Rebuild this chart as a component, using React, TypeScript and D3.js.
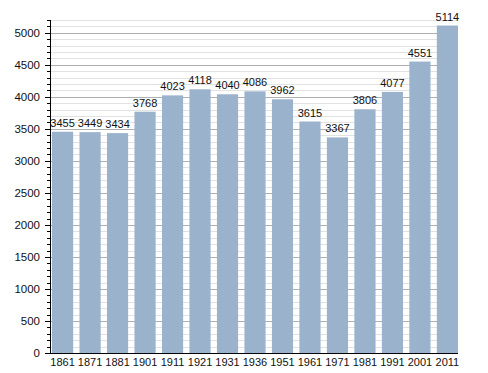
import React, { useEffect, useRef } from 'react';
import * as d3 from 'd3';

const years = ['1861', '1871', '1881', '1901', '1911', '1921', '1931', '1936', '1951', '1961', '1971', '1981', '1991', '2001', '2011'];
const population = [3455, 3449, 3434, 3768, 4023, 4118, 4040, 4086, 3962, 3615, 3367, 3806, 4077, 4551, 5114];
const majorTicks = [0, 500, 1000, 1500, 2000, 2500, 3000, 3500, 4000, 4500, 5000];

const App: React.FC = () => {
  const ref = useRef<SVGSVGElement>(null);

  useEffect(() => {
    const width = 488, height = 373;
    const svg = d3.select(ref.current)
      .attr('width', width)
      .attr('height', height);

    svg.selectAll('*').remove();

    const left = 50, right = 458, top = 20, bottom = 353;
    const font = 'Liberation Sans, Arial, sans-serif';

    const x = d3.scaleBand()
      .domain(years)
      .range([52, right])
      .paddingInner(0.23)
      .paddingOuter(0);

    const y = d3.scaleLinear()
      .domain([0, 5200])
      .range([bottom, top]);

    // minor grid every 100
    const minor = d3.range(100, 5201, 100).filter(v => v % 500 !== 0);
    svg.append('g')
      .selectAll('line')
      .data(minor)
      .join('line')
      .attr('x1', left)
      .attr('x2', right)
      .attr('y1', d => Math.round(y(d)) + 0.5)
      .attr('y2', d => Math.round(y(d)) + 0.5)
      .attr('stroke', '#e2e2e2')
      .attr('stroke-width', 1);

    // major grid
    svg.append('g')
      .selectAll('line')
      .data(majorTicks.filter(v => v > 0))
      .join('line')
      .attr('x1', left)
      .attr('x2', right)
      .attr('y1', d => Math.round(y(d)) + 0.5)
      .attr('y2', d => Math.round(y(d)) + 0.5)
      .attr('stroke', '#b0b0b0')
      .attr('stroke-width', 1);

    // bars
    svg.append('g')
      .selectAll('rect')
      .data(population)
      .join('rect')
      .attr('x', (d, i) => x(years[i])!)
      .attr('y', d => y(d))
      .attr('width', x.bandwidth())
      .attr('height', d => bottom - y(d))
      .attr('fill', '#9ab2cc');

    // value labels
    svg.append('g')
      .selectAll('text')
      .data(population)
      .join('text')
      .attr('x', (d, i) => x(years[i])! + x.bandwidth() / 2)
      .attr('y', d => y(d) - 5)
      .attr('text-anchor', 'middle')
      .style('font-family', font)
      .style('font-size', '11px')
      .attr('fill', '#111')
      .text(d => d);

    // y axis line + ticks
    const axis = svg.append('g');
    axis.append('line')
      .attr('x1', left + 0.5)
      .attr('x2', left + 0.5)
      .attr('y1', top)
      .attr('y2', bottom + 1)
      .attr('stroke', '#000');

    axis.selectAll('line.minor')
      .data(minor)
      .join('line')
      .attr('class', 'minor')
      .attr('x1', left - 3)
      .attr('x2', left)
      .attr('y1', d => Math.round(y(d)) + 0.5)
      .attr('y2', d => Math.round(y(d)) + 0.5)
      .attr('stroke', '#000');

    axis.selectAll('line.major')
      .data(majorTicks)
      .join('line')
      .attr('class', 'major')
      .attr('x1', left - 5)
      .attr('x2', left)
      .attr('y1', d => Math.round(y(d)) + 0.5)
      .attr('y2', d => Math.round(y(d)) + 0.5)
      .attr('stroke', '#000');

    axis.selectAll('text')
      .data(majorTicks)
      .join('text')
      .attr('x', left - 10)
      .attr('y', d => y(d) + 4)
      .attr('text-anchor', 'end')
      .style('font-family', font)
      .style('font-size', '11.5px')
      .attr('fill', '#111')
      .text(d => d);

    // x axis line
    svg.append('line')
      .attr('x1', left)
      .attr('x2', right)
      .attr('y1', bottom + 0.5)
      .attr('y2', bottom + 0.5)
      .attr('stroke', '#000');

    svg.append('g')
      .selectAll('text')
      .data(years)
      .join('text')
      .attr('x', d => x(d)! + x.bandwidth() / 2)
      .attr('y', bottom + 13)
      .attr('text-anchor', 'middle')
      .style('font-family', font)
      .style('font-size', '11px')
      .attr('fill', '#111')
      .text(d => d);
  }, []);

  return (
    <div style={{ position: 'absolute', left: 0, top: 0 }}>
      <svg ref={ref} style={{ display: 'block', background: '#fff' }}></svg>
    </div>
  );
};

export default App;
